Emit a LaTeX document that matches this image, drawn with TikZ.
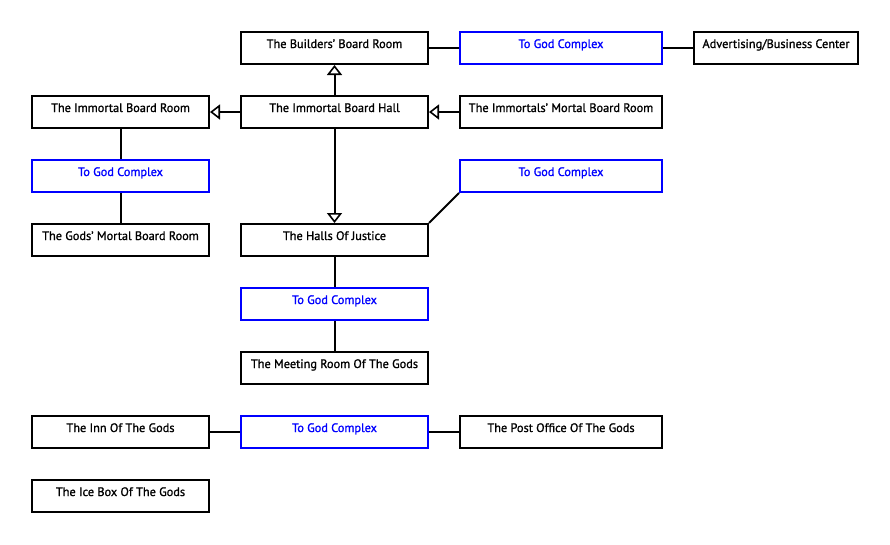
\documentclass[tikz,border=0pt]{standalone}
\usepackage{fontspec}
\setmainfont[FakeBold=1.2]{PT Sans}
\usetikzlibrary{arrows.meta}
\definecolor{tgcblue}{HTML}{0000FF}
\tikzset{
  room/.style={draw=black, line width=2pt, rectangle, minimum height=32pt, inner sep=0pt,
    text height=9pt, text depth=9pt, font=\fontsize{12.3}{14}\selectfont, text=black},
  tgc/.style={room, draw=tgcblue, text=tgcblue},
  link/.style={line width=2pt, draw=black},
  oarrow/.style={link, -{Triangle[open, length=10pt, width=15pt, line width=1.6pt, fill=white]}},
}
\begin{document}
\begin{tikzpicture}[x=1pt, y=-1pt]
\useasboundingbox (0,0) rectangle (890,544);
\node[room, minimum width=187pt] (builders) at (334.5,48) {The Builders' Board Room};
\node[tgc,  minimum width=202pt] (tgca) at (561,48) {To God Complex};
\node[room, minimum width=164pt] (adv) at (776,48) {Advertising/Business Center};
\node[room, minimum width=177pt] (ibr) at (120.5,112) {The Immortal Board Room};
\node[room, minimum width=187pt] (hall) at (334.5,112) {The Immortal Board Hall};
\node[room, minimum width=202pt] (imm) at (561,112) {The Immortals' Mortal Board Room};
\node[tgc,  minimum width=177pt] (tgcb) at (120.5,176) {To God Complex};
\node[tgc,  minimum width=202pt] (tgcc) at (561,176) {To God Complex};
\node[room, minimum width=177pt] (gods) at (120.5,240) {The Gods' Mortal Board Room};
\node[room, minimum width=187pt] (hoj) at (334.5,240) {The Halls Of Justice};
\node[tgc,  minimum width=187pt] (tgcd) at (334.5,304) {To God Complex};
\node[room, minimum width=187pt] (meet) at (334.5,368) {The Meeting Room Of The Gods};
\node[room, minimum width=177pt] (inn) at (120.5,432) {The Inn Of The Gods};
\node[tgc,  minimum width=187pt] (tgce) at (334.5,432) {To God Complex};
\node[room, minimum width=202pt] (post) at (561,432) {The Post Office Of The Gods};
\node[room, minimum width=177pt] (ice) at (120.5,496) {The Ice Box Of The Gods};

\draw[oarrow] (hall.north) -- (builders.south);
\draw[oarrow] (hall.west) -- (ibr.east);
\draw[oarrow] (imm.west) -- (hall.east);
\draw[oarrow] (hall.south) -- (hoj.north);
\draw[link] (builders.east) -- (tgca.west);
\draw[link] (tgca.east) -- (adv.west);
\draw[link] (ibr.south) -- (tgcb.north);
\draw[link] (tgcb.south) -- (gods.north);
\draw[link] (hoj.north east) -- (tgcc.south west);
\draw[link] (hoj.south) -- (tgcd.north);
\draw[link] (tgcd.south) -- (meet.north);
\draw[link] (inn.east) -- (tgce.west);
\draw[link] (tgce.east) -- (post.west);
\end{tikzpicture}
\end{document}
